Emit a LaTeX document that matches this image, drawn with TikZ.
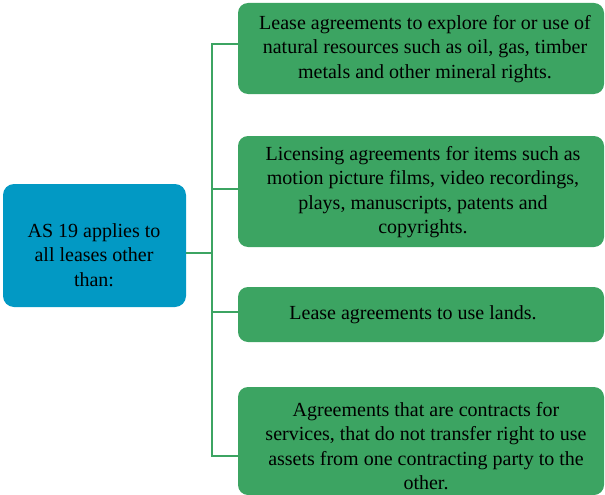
\documentclass[tikz,border=0pt]{standalone}
\usepackage{fontspec}
\setmainfont{Liberation Serif}
\definecolor{boxblue}{RGB}{2,153,196}
\definecolor{boxgreen}{RGB}{60,164,98}
\begin{document}
\begin{tikzpicture}[x=1pt,y=-1pt,
  txt/.style={font=\fontsize{20}{24.5}\selectfont, text=black, align=center, inner sep=0pt},
  gbox/.style={fill=boxgreen, rounded corners=10pt, minimum width=366pt, inner sep=0pt},
  bbox/.style={fill=boxblue, rounded corners=11pt, minimum width=183pt, minimum height=123pt, inner sep=0pt},
  conn/.style={draw=boxgreen, line width=2.4pt}]
\useasboundingbox (0,0) rectangle (605,495);
% left box
\node[bbox] (L) at (94.5,245.5) {};
\node[txt] (Lt) at (94,255) {AS 19 applies to\\all leases other\\than:};
% right boxes
\node[gbox, minimum height=91pt] (B1) at (421,48.5) {};
\node[txt] (B1t) at (425,49) {Lease agreements to explore for or use of\\natural resources such as oil, gas, timber\\metals and other mineral rights.};
\node[gbox, minimum height=111pt] (B2) at (421,191.5) {};
\node[txt] (B2t) at (423,192) {Licensing agreements for items such as\\motion picture films, video recordings,\\plays, manuscripts, patents and\\copyrights.};
\node[gbox, minimum height=55pt] (B3) at (421,314.5) {};
\node[txt] (B3t) at (413,315) {Lease agreements to use lands.};
\node[gbox, minimum height=108pt] (B4) at (421,441) {};
\node[txt] (B4t) at (426,446) {Agreements that are contracts for\\services, that do not transfer right to use\\assets from one contracting party to the\\other.};
% connectors
\coordinate (T1) at (212,44);
\coordinate (T2) at (212,189);
\coordinate (T3) at (212,312);
\coordinate (T4) at (212,456);
\coordinate (T0) at (212,253);
\draw[conn] (T0 -| L.east) -- (T0);
\draw[conn] (T1 -| B1.west) -- (T1) -- (T4) -- (T4 -| B4.west);
\draw[conn] (T2) -- (T2 -| B2.west);
\draw[conn] (T3) -- (T3 -| B3.west);
\end{tikzpicture}
\end{document}
